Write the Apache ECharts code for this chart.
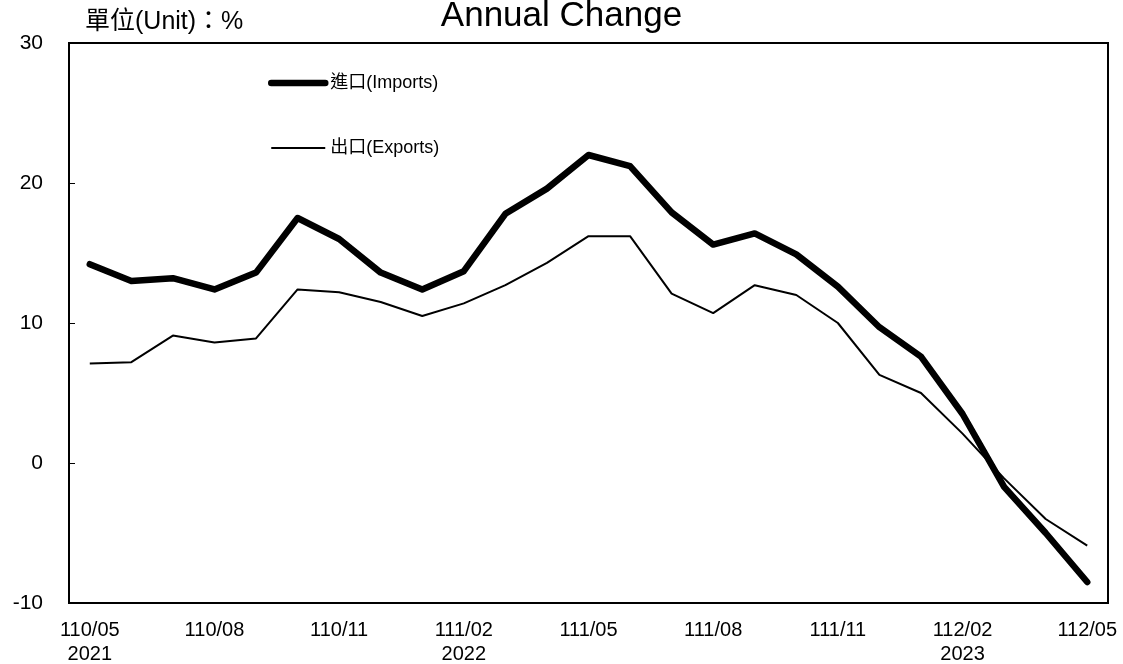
<!DOCTYPE html>
<html>
<head>
<meta charset="utf-8">
<script src="https://cdn.jsdelivr.net/npm/echarts@6/dist/echarts.min.js"></script>
<style>
html,body{margin:0;padding:0;background:#fff;overflow:hidden;}
#chart{width:1123px;height:664px;}
</style>
</head>
<body>
<div id="chart"></div>
<script>
var categories = ['110/05\n2021','110/06','110/07','110/08','110/09','110/10','110/11','110/12',
  '111/01','111/02\n2022','111/03','111/04','111/05','111/06','111/07','111/08','111/09','111/10',
  '111/11','111/12','112/01','112/02\n2023','112/03','112/04','112/05'];
var importsData = [14.2,13.0,13.2,12.4,13.6,17.5,16.0,13.6,12.4,13.7,17.8,19.6,22.0,21.2,17.9,15.6,16.4,14.9,12.6,9.7,7.6,3.5,-1.7,-5.0,-8.5];
var exportsData = [7.1,7.2,9.1,8.6,8.9,12.4,12.2,11.5,10.5,11.4,12.7,14.3,16.2,16.2,12.1,10.7,12.7,12.0,10.0,6.3,5.0,2.1,-1.1,-4.0,-5.9];
var yTicks = {min:-10, max:30, interval:10};
var seriesNames = ['進口(Imports)','出口(Exports)'];

var font = '"Liberation Sans", Arial, "Noto Sans CJK TC", sans-serif';
var chart = echarts.init(document.getElementById('chart'));
chart.setOption({
  animation:false,
  backgroundColor:'#fff',
  title:{
    text:'Annual Change', left:'center', top:-1, padding:0,
    textStyle:{fontFamily:font, fontSize:35, fontWeight:'normal', color:'#000'}
  },
  graphic:[{
    type:'text', left:85, top:10,
    style:{text:'單位(Unit)：%', fontFamily:font, fontSize:25, fill:'#000'}
  }],
  legend:{
    orient:'vertical', left:268, top:74, padding:0, itemGap:47, itemWidth:54, itemHeight:14,
    textStyle:{fontFamily:font, fontSize:18, color:'#000'},
    itemStyle:{opacity:0, color:'rgba(0,0,0,0)', borderWidth:0},
    data:[
      {name:seriesNames[0], lineStyle:{width:6.5, cap:'round'}},
      {name:seriesNames[1], lineStyle:{width:2}}
    ],
    selectedMode:false
  },
  grid:{left:69, right:15, top:43, bottom:61, outerBoundsMode:'none', containLabel:false,
        show:true, borderColor:'#000', borderWidth:2},
  xAxis:{
    type:'category', data:categories, boundaryGap:true,
    axisLine:{onZero:false, lineStyle:{color:'#000', width:2}},
    axisTick:{inside:true, length:6, interval:0, lineStyle:{color:'#000', width:1}},
    axisLabel:{interval:2, margin:15, fontFamily:font, fontSize:20, color:'#000', lineHeight:24}
  },
  yAxis:{
    type:'value', min:yTicks.min, max:yTicks.max, interval:yTicks.interval,
    axisLine:{show:true, lineStyle:{color:'#000', width:2}},
    axisTick:{show:true, inside:true, length:6, lineStyle:{color:'#000', width:1}},
    splitLine:{show:false},
    axisLabel:{margin:26, fontFamily:font, fontSize:21, color:'#000'}
  },
  series:[
    {name:seriesNames[0], type:'line', data:importsData, symbol:'none',
     lineStyle:{color:'#000', width:6.5, join:'round', cap:'round'}, itemStyle:{color:'#000'}},
    {name:seriesNames[1], type:'line', data:exportsData, symbol:'none',
     lineStyle:{color:'#000', width:2}, itemStyle:{color:'#000'}}
  ]
});
</script>
</body>
</html>
